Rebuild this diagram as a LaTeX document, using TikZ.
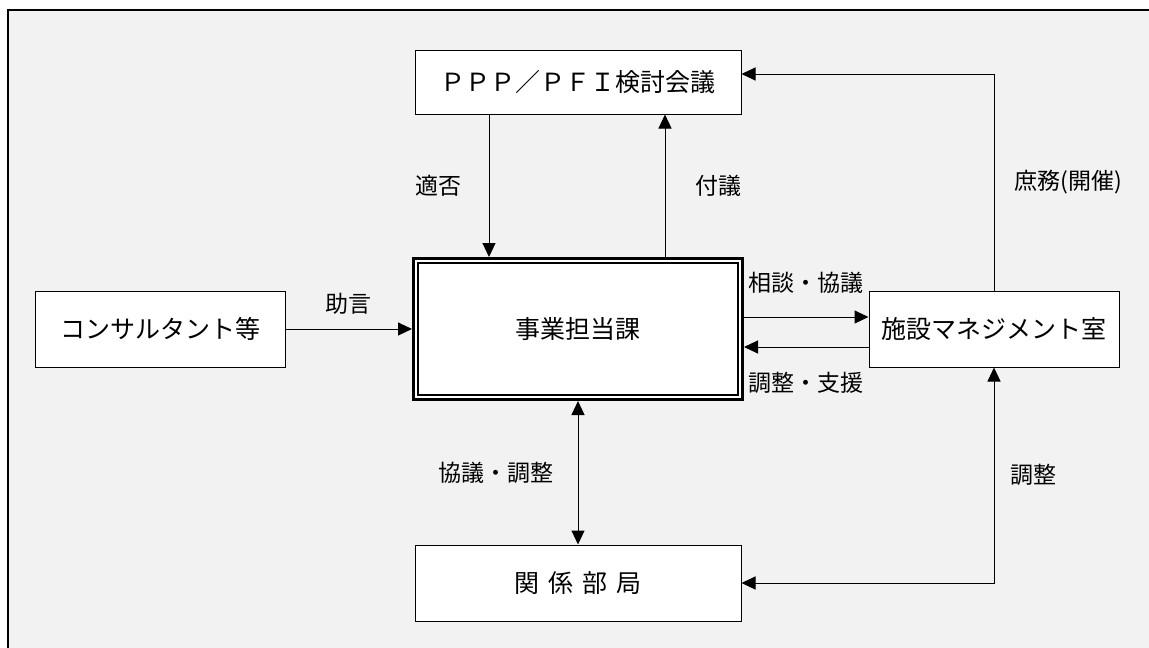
\documentclass[tikz,border=0pt]{standalone}
\usepackage{fontspec}
\setmainfont{Noto Sans CJK JP}
\usetikzlibrary{arrows.meta}
\definecolor{framebg}{HTML}{F2F2F2}
\begin{document}
\begin{tikzpicture}[x=1pt, y=-1pt,
	box/.style={draw, fill=white, line width=1pt, minimum width=250pt, minimum height=76pt, font=\fontsize{25}{28}\selectfont},
	lbl/.style={inner sep=0pt, font=\fontsize{23}{26}\selectfont},
	arr/.style={line width=1pt, -{Triangle[length=14pt,width=13pt]}},
	arrb/.style={line width=1pt, {Triangle[length=14pt,width=13pt]}-{Triangle[length=14pt,width=13pt]}}]
	\useasboundingbox (0,0) rectangle (1149,648);
	\clip (0,0) rectangle (1149,648);
	\fill[white] (0,0) rectangle (1149,648);
	\draw[line width=2.4pt, fill=framebg] (8,10) rectangle (1180,680);

	\node[box, line width=3pt, minimum width=329pt, minimum height=141pt] (main) at (578,329) {事業担当課};
	\draw[line width=1.8pt] ([shift={(6pt,-6pt)}]main.north west) rectangle ([shift={(-6pt,6pt)}]main.south east);
	\node[box, node distance=247pt, above of=main, minimum width=326pt, minimum height=64pt] (ppp) {ＰＰＰ／ＰＦＩ検討会議};
	\node[box, node distance=254pt, below of=main, minimum width=326pt] (bu) {関\kern9pt 係\kern9pt 部\kern9pt 局};
	\node[box, node distance=418pt, left of=main] (con) {コンサルタント等};
	\node[box, node distance=416pt, right of=main] (fac) {施設マネジメント室};

	\coordinate (tekihiA) at ([xshift=-89pt]ppp.south);
	\coordinate (fugiA) at ([xshift=87pt]main.north);
	\coordinate (soudanA) at ([yshift=12pt]main.east);
	\coordinate (shienA) at ([yshift=-18pt]fac.west);

	\draw[arr] (tekihiA) -- (tekihiA |- main.north) node[lbl, midway, left=27pt] (tekihi) {適否};
	\draw[arr] (fugiA) -- (fugiA |- ppp.south) node[lbl, midway, right=30pt] (fugi) {付議};
	\draw[arr] (con) -- (main) node[lbl, midway, above=14pt] (jogen) {助言};
	\draw[arr] (soudanA) -- (soudanA -| fac.west) node[lbl, midway, above=23pt] (soudan) {相談・協議};
	\draw[arr] (shienA) -- (shienA -| main.east) node[lbl, midway, below=25pt] (shien) {調整・支援};
	\draw[arrb] (main) -- (bu) node[lbl, midway, left=24pt] (kyogi) {協議・調整};
	\draw[arr] (fac.north) |- ([yshift=8pt]ppp.east) node[lbl, pos=0.25, right=20pt] (shomu) {庶務(開催)};
	\draw[arrb] (bu.east) -| (fac.south) node[lbl, pos=0.75, right=16pt] (chosei) {調整};
\end{tikzpicture}
\end{document}
